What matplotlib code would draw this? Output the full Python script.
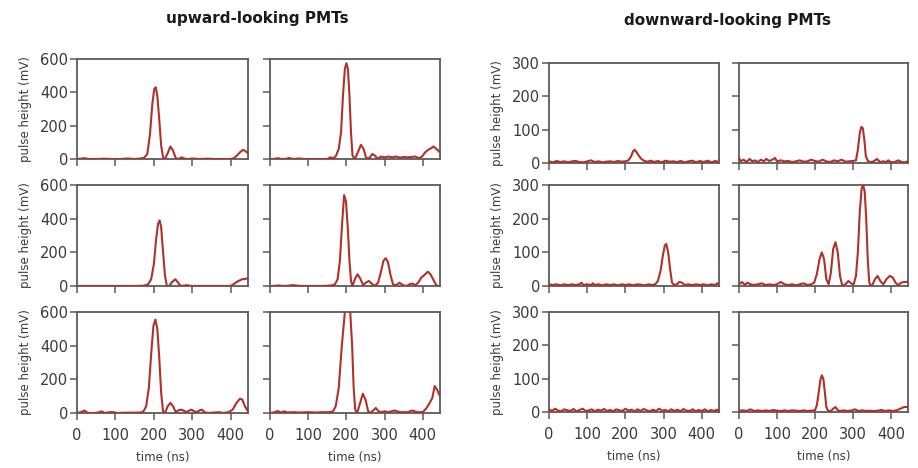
import matplotlib
matplotlib.use("Agg")
from matplotlib import pyplot as plt

# upward-looking PMTs, row by row (times in ns, heights in mV)
up1_t = [0, 10, 20, 30, 50, 70, 90, 110, 130, 150, 165, 175, 183, 190, 196, 201, 205, 209, 214, 219, 224, 229,
         236, 243, 250, 257, 264, 272, 280, 290, 300, 320, 340, 360, 380, 400, 408, 416, 424, 432, 438, 445]
up1_v = [0, 2, 5, 0, 0, 2, 0, 0, 3, 0, 3, 8, 30, 150, 330, 420, 430, 380, 240, 80, 10, 0,
         35, 75, 50, 5, 0, 10, 2, 0, 3, 0, 2, 0, 0, 0, 5, 20, 40, 55, 48, 35]

up2_t = [0, 10, 20, 30, 40, 50, 60, 75, 90, 110, 130, 150, 158, 165, 172, 180, 186, 191, 196, 200, 204, 208,
         212, 216, 222, 230, 238, 245, 252, 260, 268, 275, 282, 290, 300, 310, 320, 330, 340, 350, 360, 370,
         380, 390, 398, 406, 414, 422, 428, 436, 445]
up2_v = [0, 0, 5, 0, 0, 6, 0, 3, 0, 0, 0, 0, 10, 5, 15, 60, 160, 380, 540, 575, 540, 380,
         160, 20, 0, 40, 85, 60, 5, 5, 30, 20, 0, 15, 10, 15, 10, 15, 8, 12, 10, 12,
         15, 5, 15, 40, 55, 65, 75, 60, 40]

up3_t = [0, 50, 100, 150, 175, 185, 193, 200, 206, 211, 215, 219, 224, 229, 234, 240, 248, 256, 263, 270,
         280, 286, 292, 300, 320, 350, 380, 400, 410, 420, 430, 445]
up3_v = [0, 0, 0, 0, 2, 10, 40, 130, 280, 370, 390, 350, 200, 60, 0, 0, 25, 40, 20, 0,
         3, 5, 2, 0, 0, 0, 0, 0, 15, 30, 40, 45]

up4_t = [0, 10, 20, 40, 60, 80, 100, 120, 140, 160, 170, 177, 183, 189, 194, 199, 204, 208, 212, 216, 222,
         229, 236, 244, 251, 259, 266, 274, 283, 290, 297, 303, 309, 316, 322, 330, 339, 348, 358, 365, 372,
         380, 388, 396, 404, 413, 420, 427, 434, 438, 445]
up4_v = [0, 0, 3, 0, 5, 0, 0, 0, 0, 3, 10, 40, 150, 380, 540, 500, 330, 150, 30, 0, 40,
         70, 45, 5, 20, 30, 15, 0, 20, 80, 150, 165, 140, 60, 10, 5, 20, 5, 0, 10, 15,
         5, 20, 50, 65, 85, 70, 40, 10, 0, 0]

up5_t = [0, 10, 20, 28, 45, 55, 64, 72, 85, 95, 105, 130, 150, 165, 173, 180, 187, 193, 199, 204, 209, 214,
         219, 224, 229, 236, 243, 250, 257, 263, 270, 277, 285, 292, 298, 305, 312, 318, 325, 332, 340, 360,
         370, 380, 395, 405, 415, 424, 430, 437, 445]
up5_v = [0, 5, 15, 0, 0, 3, 10, 0, 5, 5, 0, 2, 2, 3, 10, 40, 150, 350, 520, 555, 500, 330,
         120, 10, 0, 40, 60, 40, 5, 15, 20, 15, 5, 15, 20, 10, 5, 15, 20, 5, 0, 3,
         5, 0, 5, 20, 60, 85, 80, 40, 10]

up6_t = [0, 10, 20, 28, 38, 45, 60, 80, 100, 120, 140, 155, 165, 172, 180, 188, 196, 203, 210, 215, 219,
         223, 228, 236, 243, 250, 257, 263, 270, 277, 284, 292, 300, 310, 326, 340, 360, 373, 385, 400,
         410, 418, 425, 431, 437, 445]
up6_v = [0, 3, 12, 3, 10, 3, 5, 3, 5, 3, 5, 5, 10, 40, 150, 400, 600, 660, 600, 400, 150,
         20, 0, 60, 115, 80, 10, 0, 15, 30, 10, 5, 10, 5, 15, 5, 5, 15, 5, 5,
         30, 60, 90, 160, 140, 100]

# downward-looking PMTs, row by row
down1_t = [0, 10, 20, 30, 40, 50, 60, 70, 80, 90, 100, 110, 120, 130, 140, 150, 160, 170, 180, 190, 200,
           208, 215, 220, 224, 229, 235, 242, 250, 258, 266, 275, 285, 295, 305, 315, 325, 335, 345, 355,
           365, 375, 385, 395, 405, 415, 425, 435, 445]
down1_v = [5, 2, 6, 3, 5, 2, 5, 6, 3, 2, 5, 8, 3, 5, 2, 4, 5, 3, 6, 4, 5,
           8, 20, 35, 40, 33, 22, 12, 6, 4, 7, 3, 6, 2, 7, 4, 5, 3, 6, 2,
           5, 7, 2, 6, 3, 7, 2, 6, 3]

down2_t = [0, 5, 12, 20, 28, 35, 42, 50, 58, 65, 72, 80, 88, 95, 100, 110, 120, 130, 140, 150, 160, 170,
           180, 190, 200, 210, 220, 230, 240, 250, 260, 270, 280, 290, 300, 308, 313, 318, 322, 326, 330,
           334, 340, 347, 355, 363, 372, 380, 387, 393, 400, 410, 419, 428, 436, 445]
down2_v = [15, 5, 10, 3, 12, 5, 8, 3, 10, 5, 12, 6, 10, 15, 5, 8, 5, 6, 3, 5, 8, 4,
           5, 10, 6, 4, 10, 5, 3, 8, 5, 10, 4, 5, 6, 8, 40, 90, 108, 105, 70,
           20, 5, 3, 5, 12, 3, 5, 3, 8, 2, 3, 8, 3, 2, 5]

down3_t = [0, 10, 20, 30, 40, 50, 60, 70, 80, 85, 90, 100, 110, 115, 120, 130, 140, 150, 160, 170, 180,
           190, 200, 210, 220, 230, 240, 250, 260, 270, 278, 285, 292, 298, 303, 307, 312, 317, 322, 328,
           335, 341, 348, 355, 365, 375, 385, 395, 405, 415, 425, 435, 440, 445]
down3_v = [5, 3, 5, 2, 5, 3, 5, 3, 5, 10, 3, 5, 3, 8, 3, 5, 2, 5, 3, 5, 2,
           5, 3, 5, 2, 5, 4, 2, 5, 3, 5, 15, 45, 90, 120, 125, 100, 50, 10, 3,
           5, 12, 10, 3, 5, 3, 5, 3, 5, 2, 5, 3, 8, 5]

down4_t = [0, 8, 15, 22, 30, 40, 50, 60, 70, 80, 90, 100, 110, 120, 130, 140, 150, 160, 170, 180, 190,
           198, 205, 212, 218, 224, 230, 236, 242, 248, 254, 260, 266, 272, 280, 288, 295, 302, 308, 313,
           318, 323, 327, 331, 335, 339, 343, 347, 352, 358, 365, 372, 380, 388, 397, 405, 412, 419, 427,
           435, 445]
down4_v = [5, 12, 3, 10, 5, 3, 5, 8, 3, 5, 3, 5, 12, 5, 3, 5, 2, 5, 8, 3, 5,
           10, 35, 80, 100, 80, 20, 5, 40, 110, 130, 100, 30, 0, 5, 15, 8, 5, 30, 100,
           220, 290, 300, 280, 200, 80, 10, 0, 5, 20, 30, 15, 5, 20, 30, 25, 10, 3, 10,
           12, 12]

down5_t = [0, 8, 16, 24, 32, 40, 48, 56, 64, 72, 80, 88, 96, 104, 112, 120, 128, 136, 144, 152, 160, 168,
           176, 184, 192, 200, 208, 216, 224, 232, 240, 248, 256, 264, 272, 280, 288, 296, 304, 312, 320,
           328, 336, 344, 352, 360, 368, 376, 384, 392, 400, 408, 416, 424, 432, 440, 445]
down5_v = [8, 3, 10, 4, 2, 8, 5, 3, 9, 2, 6, 10, 3, 5, 8, 2, 7, 4, 9, 3, 6, 2,
           8, 5, 3, 10, 4, 7, 2, 8, 3, 9, 5, 2, 7, 3, 10, 4, 6, 2, 8,
           3, 7, 2, 9, 4, 3, 8, 2, 6, 3, 8, 2, 6, 3, 7, 4]

down6_t = [0, 10, 20, 30, 40, 50, 60, 70, 80, 90, 100, 110, 120, 130, 140, 150, 160, 170, 180, 190, 200,
           205, 210, 214, 218, 222, 226, 230, 235, 242, 248, 254, 260, 268, 276, 285, 295,
           305, 315, 325, 335, 345, 355, 365, 375, 385, 395, 405, 415, 425, 435, 445]
down6_v = [3, 5, 3, 8, 3, 5, 3, 5, 3, 6, 4, 3, 5, 3, 5, 4, 3, 5, 3, 4, 5,
           20, 60, 95, 110, 100, 60, 15, 3, 3, 10, 15, 5, 3, 5, 3, 4,
           8, 3, 5, 3, 4, 3, 4, 6, 3, 5, 3, 5, 10, 15, 15]

up_traces = [(up1_t, up1_v), (up2_t, up2_v), (up3_t, up3_v),
             (up4_t, up4_v), (up5_t, up5_v), (up6_t, up6_v)]
down_traces = [(down1_t, down1_v), (down2_t, down2_v), (down3_t, down3_v),
               (down4_t, down4_v), (down5_t, down5_v), (down6_t, down6_v)]

up_yticks = [0, 200, 400, 600]
down_yticks = [0, 100, 200, 300]
x_ticks = [0, 100, 200, 300, 400]

W, H = 918, 468
line_color = "#b0302b"
frame_color = "#5a5a5a"
text_color = "#3a3a3a"

fig = plt.figure(figsize=(W / 100, H / 100), dpi=100)
fig.patch.set_facecolor("white")


def px_axes(x0, x1, y0, y1):
    # pixel box (top-left origin) -> figure axes
    return fig.add_axes([x0 / W, 1 - y1 / H, (x1 - x0) / W, (y1 - y0) / H])


def draw_group(traces, cols, rows, yticks, title, title_xy):
    for i, (t, v) in enumerate(traces):
        r, c = divmod(i, 2)
        ax = px_axes(cols[c][0], cols[c][1], rows[r][0], rows[r][1])
        ax.plot(t, v, color=line_color, lw=1.5, zorder=3)
        ax.set_xlim(0, 445)
        ax.set_ylim(0, yticks[-1])
        ax.set_xticks(x_ticks)
        ax.set_yticks(yticks)
        for s in ax.spines.values():
            s.set_color(frame_color)
            s.set_linewidth(1.3)
        ax.tick_params(direction="out", length=5, width=1.1, color=frame_color,
                       labelcolor=text_color, labelsize=10.5, pad=1.5)
        ax.tick_params(axis="x", pad=5.5)
        if c == 1:
            ax.tick_params(labelleft=False)
        else:
            ax.set_ylabel("pulse height (mV)", fontsize=8.5, color=text_color, labelpad=6)
        if r < 2:
            ax.tick_params(labelbottom=False)
        else:
            ax.set_xlabel("time (ns)", fontsize=8.5, color=text_color, labelpad=6)
    fig.text(title_xy[0] / W, 1 - title_xy[1] / H, title, ha="center", va="center",
             fontsize=11, fontweight="bold", color="#1a1a1a")


draw_group(up_traces, [(77, 248), (270, 440)], [(59, 159), (185, 286), (312, 413)],
           up_yticks, "upward-looking PMTs", (257, 18))
draw_group(down_traces, [(549, 719), (739, 908)], [(63, 163), (185, 286), (312, 412)],
           down_yticks, "downward-looking PMTs", (728, 20))

plt.savefig("out.png", dpi=100, facecolor="white")
